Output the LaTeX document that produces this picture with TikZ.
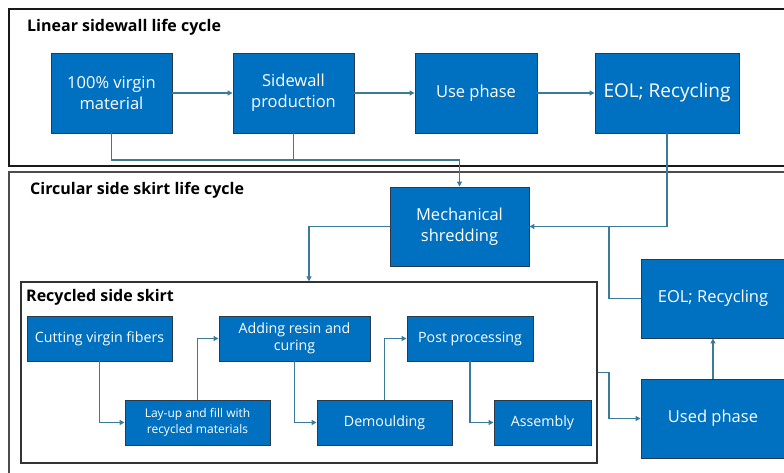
\documentclass[tikz,border=0pt]{standalone}
\usepackage{fontspec}
\setmainfont{Open Sans}
\usetikzlibrary{arrows.meta}
\definecolor{boxblue}{HTML}{0070C0}
\definecolor{boxedge}{HTML}{2B3A4A}
\definecolor{linkcol}{HTML}{3C7A99}
\tikzset{
  stage/.style={draw=boxedge, fill=boxblue, text=white, line width=0.9pt, align=center, inner sep=1pt,
    font=\fontsize{16.5}{21}\selectfont},
  substage/.style={stage, font=\fontsize{14.2}{17.5}\selectfont},
  link/.style={draw=linkcol, line width=1.3pt, -{Triangle[length=5pt,width=5pt]}},
  plainlink/.style={draw=linkcol, line width=1.3pt},
  heading/.style={anchor=base west, inner sep=0pt, font=\bfseries\fontsize{16}{19}\selectfont},
}
\begin{document}
\begin{tikzpicture}[x=1pt,y=-1pt]
	  \useasboundingbox (0,0) rectangle (784,473);
	  \clip (0,0) rectangle (784,473);
	  %FRAMES
	  \draw[line width=1.2pt, black!90] (9,9) rectangle (800,166);
	  \draw[line width=1.6pt, black!70] (9,172) rectangle (800,490);
	  \node[heading] (lintitle) at (27,31.5) {Linear sidewall life cycle};
	  \node[heading] (circtitle) at (30,195) {Circular side skirt life cycle};
	  %LINEAR CYCLE
	  \node[stage, minimum width=121pt, minimum height=80pt] (virgin) at (111.5,93) {100\% virgin\\material};
	  \node[stage, minimum width=121pt, minimum height=80pt] (sidewall) at (293.5,93) {Sidewall\\production};
	  \node[stage, minimum width=122pt, minimum height=80pt] (use) at (476,93) {Use phase};
	  \node[stage, minimum width=144pt, minimum height=80pt, font=\fontsize{19}{22}\selectfont] (eolA) at (667,93) {EOL; Recycling};
	  %CIRCULAR CYCLE
	  \node[stage, minimum width=139pt, minimum height=79pt] (shred) at (459.5,226.5) {Mechanical\\shredding};
	  \node[stage, minimum width=144pt, minimum height=79pt] (eolB) at (713,298.5) {EOL; Recycling};
	  \node[stage, minimum width=144pt, minimum height=79pt] (used) at (713,418.5) {Used phase};
	  %RECYCLED SIDE SKIRT
	  \node[draw=black!80, line width=1.2pt, minimum width=576pt, minimum height=181pt] (skirt) at (309,372.5) {};
	  \node[heading] (skirttitle) at (26,301.5) {Recycled side skirt};
	  \node[substage, minimum width=145pt, minimum height=45pt] (cut) at (99.5,338.5) {Cutting virgin fibers};
	  \node[substage, minimum width=145pt, minimum height=45pt, font=\fontsize{12}{15.5}\selectfont] (layup) at (197.5,422.5) {Lay-up and fill with\\recycled materials};
	  \node[substage, minimum width=151pt, minimum height=45pt] (resin) at (294.5,338.5) {Adding resin and\\curing};
	  \node[substage, minimum width=135pt, minimum height=45pt] (demould) at (384.5,422.5) {Demoulding};
	  \node[substage, minimum width=126pt, minimum height=45pt] (post) at (470,338.5) {Post processing};
	  \node[substage, minimum width=97pt, minimum height=45pt] (assembly) at (542.5,422.5) {Assembly};
	  %JOINS
	  \coordinate (joinA) at (459.5,160);
	  \coordinate (joinB) at (609,226.5);
	  %ARROWS
	  \draw[link] (virgin) -- (sidewall);
	  \draw[link] (sidewall) -- (use);
	  \draw[link] (use) -- (eolA);
	  \draw[link] (virgin.south) |- (joinA) -- (shred.north);
	  \draw[plainlink] (sidewall.south) -- (sidewall.south |- joinA);
	  \draw[link] (eolA.south) |- (shred.east);
	  \draw[plainlink] (eolB.west) -| (joinB);
	  \draw[link] (shred.west) -| (skirt.north);
	  \draw[link] (skirt.east) -- (skirt.east -| joinB) |- (used.west);
	  \draw[link] (used.north) -- (eolB.south);
	  \draw[link] (cut.south) |- (layup.west);
	  \draw[link] (layup.north) |- (resin.west);
	  \draw[link] (resin.south) |- (demould.west);
	  \draw[link] (demould.north) |- (post.west);
	  \draw[link] (post.south) |- (assembly.west);
\end{tikzpicture}
\end{document}
